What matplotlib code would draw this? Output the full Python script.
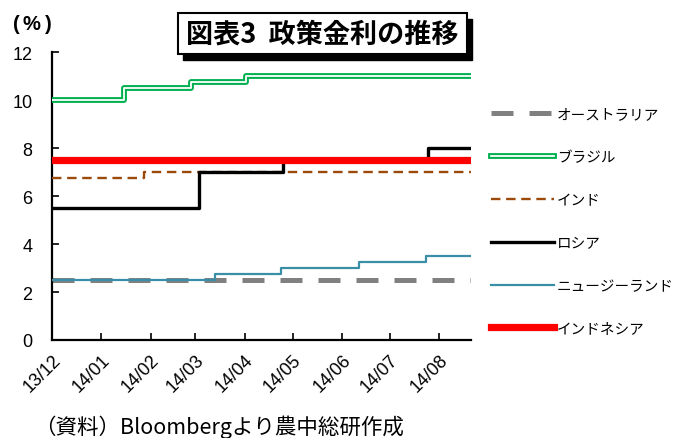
import matplotlib
matplotlib.use("Agg")
import matplotlib.pyplot as plt
import matplotlib.dates as mdates
import numpy as np
from matplotlib.patches import Rectangle
from matplotlib.legend_handler import HandlerTuple

plt.rcParams["font.family"] = ["Liberation Sans", "Noto Sans CJK JP"]

# policy rate change dates and levels (steps-post)
x_start = "2013-12-01"
x_end = "2014-08-21"

australia_dates = ["2013-12-01", "2014-08-21"]
australia_rates = [2.5, 2.5]

brazil_dates = ["2013-12-01", "2014-01-15", "2014-02-26", "2014-04-02", "2014-08-21"]
brazil_rates = [10.0, 10.5, 10.75, 11.0, 11.0]

india_dates = ["2013-12-01", "2014-01-28", "2014-08-21"]
india_rates = [6.75, 7.0, 7.0]

russia_dates = ["2013-12-01", "2014-03-03", "2014-04-25", "2014-07-25", "2014-08-21"]
russia_rates = [5.5, 7.0, 7.5, 8.0, 8.0]

nz_dates = ["2013-12-01", "2014-03-13", "2014-04-24", "2014-06-12", "2014-07-24", "2014-08-21"]
nz_rates = [2.5, 2.75, 3.0, 3.25, 3.5, 3.5]

indonesia_dates = ["2013-12-01", "2014-08-21"]
indonesia_rates = [7.5, 7.5]

tick_months = ["2013-12-01", "2014-01-01", "2014-02-01", "2014-03-01", "2014-04-01",
               "2014-05-01", "2014-06-01", "2014-07-01", "2014-08-01"]
tick_labels = ["13/12", "14/01", "14/02", "14/03", "14/04", "14/05", "14/06", "14/07", "14/08"]

labels = ["オーストラリア", "ブラジル", "インド", "ロシア", "ニュージーランド", "インドネシア"]


def d(values):
    return mdates.datestr2num(values)


fig = plt.figure(figsize=(6.82, 4.39), dpi=100)
ax = fig.add_axes([52 / 682, (439 - 341) / 439, (471 - 52) / 682, (341 - 53) / 439])

h_aus, = ax.plot(d(australia_dates), australia_rates, drawstyle="steps-post",
                 color="#808080", lw=3.6, dashes=(4.4, 3.2), zorder=2)
b_outer, = ax.plot(d(brazil_dates), brazil_rates, drawstyle="steps-post",
                   color="#00B050", lw=4.2, zorder=3)
b_inner, = ax.plot(d(brazil_dates), brazil_rates, drawstyle="steps-post",
                   color="white", lw=1.3, zorder=3)
h_ind, = ax.plot(d(india_dates), india_rates, drawstyle="steps-post",
                 color="#9C4A0C", lw=1.7, dashes=(4, 2.4), zorder=3)
h_rus, = ax.plot(d(russia_dates), russia_rates, drawstyle="steps-post",
                 color="black", lw=2.4, zorder=4)
h_nz, = ax.plot(d(nz_dates), nz_rates, drawstyle="steps-post",
                color="#3A8FA6", lw=1.6, zorder=3)
h_idn, = ax.plot(d(indonesia_dates), indonesia_rates, drawstyle="steps-post",
                 color="#FF0000", lw=5.2, zorder=5)

ax.set_xlim(d([x_start])[0], d([x_end])[0])
ax.set_ylim(0, 12)
ax.set_yticks(np.arange(0, 13, 2))
ax.set_xticks(d(tick_months))
ax.set_xticklabels(tick_labels, rotation=45, ha="right", rotation_mode="anchor", fontsize=13)
ax.tick_params(axis="x", direction="in", length=5, width=1.2, pad=8)
ax.tick_params(axis="y", direction="in", length=5, width=1.2, pad=14, labelsize=13)
for side in ("top", "right"):
    ax.spines[side].set_visible(False)
for side in ("left", "bottom"):
    ax.spines[side].set_linewidth(1.6)

# unit label "(%)" with the wide spacing of the original
for px, ch in [(16, "("), (31, "%"), (48, ")")]:
    fig.text(px / 682, 1 - 25 / 439, ch, fontsize=14.5, fontweight="bold", va="center", ha="center")

# title box with shadow
bx, by, bw, bh = 178, 14, 289, 41
fig.patches.append(Rectangle(((bx + 5) / 682, 1 - (by + bh + 6) / 439), bw / 682, bh / 439,
                             transform=fig.transFigure, facecolor="black", edgecolor="black", zorder=10))
fig.patches.append(Rectangle((bx / 682, 1 - (by + bh) / 439), bw / 682, bh / 439,
                             transform=fig.transFigure, facecolor="white", edgecolor="black",
                             lw=1.5, zorder=11))
fig.text((bx + bw / 2) / 682, 1 - (by + bh / 2) / 439, "図表3  政策金利の推移",
         fontsize=19.5, fontweight="bold", ha="center", va="center", zorder=12,
         family=["Noto Sans CJK JP"])

leg = fig.legend([h_aus, (b_outer, b_inner), h_ind, h_rus, h_nz, h_idn], labels,
                 handler_map={tuple: HandlerTuple(ndivide=1, pad=0)},
                 loc="upper left", bbox_to_anchor=(478 / 682, 1 - 95 / 439),
                 frameon=False, handlelength=4.3, handletextpad=0.2,
                 labelspacing=1.98, prop={"family": ["Noto Sans CJK JP"], "size": 10.5})

fig.text(34 / 682, 1 - 427 / 439, "（資料）Bloombergより農中総研作成", fontsize=15.5,
         ha="left", va="center", family=["Noto Sans CJK JP"])

fig.savefig("out.png", dpi=100)
